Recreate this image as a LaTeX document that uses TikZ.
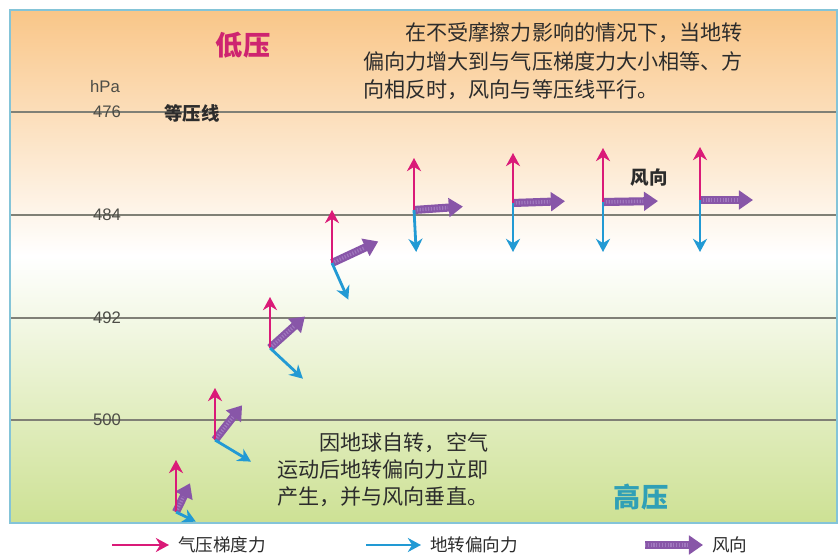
\documentclass[tikz,border=0pt]{standalone}
\usepackage{fontspec}
\setmainfont{Liberation Sans}
\newfontfamily\cjk{Noto Sans CJK SC}
\usepackage{tikz}
\usetikzlibrary{positioning}
\usetikzlibrary{arrows.meta}
\definecolor{pgcol}{RGB}{218,26,120}
\definecolor{cocol}{RGB}{34,154,212}
\definecolor{wdcol}{RGB}{136,86,168}
\definecolor{wdlight}{RGB}{160,120,190}
\definecolor{lowcol}{RGB}{206,36,112}
\definecolor{highcol}{RGB}{48,160,182}
\definecolor{framecol}{RGB}{132,196,216}
\definecolor{bgtop}{RGB}{249,198,136}
\definecolor{bgbot}{RGB}{205,225,148}
\definecolor{isocol}{RGB}{128,128,118}
\definecolor{txtcol}{RGB}{44,44,44}

\begin{document}
\begin{tikzpicture}[
    pg arrow/.style={draw=pgcol, line width=1.6pt, -{Stealth[length=7.5pt,width=8pt]}},
    co arrow/.style={draw=cocol, line width=1.6pt, -{Stealth[length=7.5pt,width=8pt]}},
    wd arrow/.style={
        draw=wdcol, line width=4.6pt, -{Triangle[length=8pt,width=10.5pt]},
        postaction={draw=wdlight, line width=2pt, dash pattern=on 0.7pt off 0.9pt, shorten >=8.5pt, -}
    },
    isobar/.style={draw=isocol, line width=0.6pt},
    hpa label/.style={text=isocol!60!black, font=\fontsize{9.5}{11}\selectfont},
    body/.style={text=txtcol, align=left, inner sep=0pt},
    legend/.style={anchor=west, inner xsep=5pt, text=txtcol, font=\cjk\fontsize{10}{12}\selectfont}
  ]
  \useasboundingbox (0,0) rectangle (16.78,11.12);

  % background and frame
  \shade[top color=bgtop, bottom color=white] (0.2,6.0) rectangle (16.74,10.92);
  \shade[top color=white, bottom color=bgbot] (0.2,0.66) rectangle (16.74,6.0);
  \draw[isobar] (0.2,8.88) -- (16.74,8.88);
  \draw[isobar] (0.2,6.82) -- (16.74,6.82);
  \draw[isobar] (0.2,4.76) -- (16.74,4.76);
  \draw[isobar] (0.2,2.72) -- (16.74,2.72);
  \draw[framecol, line width=1.1pt] (0.2,0.66) rectangle (16.74,10.92);

  \node[hpa label] (unit) at (2.10,9.38) {hPa};
  \node[hpa label] (p476) at (2.14,8.88) {476};
  \node[hpa label] (p484) at (2.14,6.82) {484};
  \node[hpa label] (p492) at (2.14,4.76) {492};
  \node[hpa label] (p500) at (2.14,2.72) {500};
  \node[text=txtcol, font=\cjk\bfseries\fontsize{10.5}{12}\selectfont] (isolab) at (3.84,8.86) {等压线};

  \node[text=lowcol, font=\cjk\bfseries\fontsize{15.5}{18}\selectfont] (low) at (4.86,10.22) {低压};
  \node[text=highcol, font=\cjk\bfseries\fontsize{15.5}{18}\selectfont] (high) at (12.82,1.18) {高压};

  \node[body, anchor=north west, font=\cjk\fontsize{12}{16.2}\selectfont] (note top) at (7.26,10.67)
    {\hspace*{2em}在不受摩擦力影响的情况下，当地转\\偏向力增大到与气压梯度力大小相等、方\\向相反时，风向与等压线平行。};
  \node[body, anchor=north west, font=\cjk\fontsize{12}{15.3}\selectfont] (note bot) at (5.54,2.47)
    {\hspace*{2em}因地球自转，空气\\运动后地转偏向力立即\\产生，并与风向垂直。};

  % force groups, from the start of motion to the balance
\begin{scope}[shift={(3.52,0.88)}]
  \coordinate (o1) at (0,0);
  \coordinate (pg1) at (0,1.04);
  \coordinate (wd1) at (64:0.64);
  \coordinate (co1) at (-26:0.44);
  \draw[wd arrow] (o1) -- (wd1);
  \draw[pg arrow] (o1) -- (pg1);
  \draw[co arrow] (o1) -- (co1);
\end{scope}

\begin{scope}[shift={(4.30,2.32)}]
  \coordinate (o2) at (0,0);
  \coordinate (pg2) at (0,1.04);
  \coordinate (wd2) at (52:0.88);
  \coordinate (co2) at (-31:0.84);
  \draw[wd arrow] (o2) -- (wd2);
  \draw[pg arrow] (o2) -- (pg2);
  \draw[co arrow] (o2) -- (co2);
\end{scope}

\begin{scope}[shift={(5.40,4.16)}]
  \coordinate (o3) at (0,0);
  \coordinate (pg3) at (0,1.02);
  \coordinate (wd3) at (42:0.94);
  \coordinate (co3) at (-43:0.90);
  \draw[wd arrow] (o3) -- (wd3);
  \draw[pg arrow] (o3) -- (pg3);
  \draw[co arrow] (o3) -- (co3);
\end{scope}

\begin{scope}[shift={(6.64,5.86)}]
  \coordinate (o4) at (0,0);
  \coordinate (pg4) at (0,1.06);
  \coordinate (wd4) at (25:1.02);
  \coordinate (co4) at (-66:0.80);
  \draw[wd arrow] (o4) -- (wd4);
  \draw[pg arrow] (o4) -- (pg4);
  \draw[co arrow] (o4) -- (co4);
\end{scope}

\begin{scope}[shift={(8.28,6.92)}]
  \coordinate (o5) at (0,0);
  \coordinate (pg5) at (0,1.04);
  \coordinate (wd5) at (4:0.98);
  \coordinate (co5) at (-87:0.84);
  \draw[wd arrow] (o5) -- (wd5);
  \draw[pg arrow] (o5) -- (pg5);
  \draw[co arrow] (o5) -- (co5);
\end{scope}

\begin{scope}[shift={(10.26,7.06)}]
  \coordinate (o6) at (0,0);
  \coordinate (pg6) at (0,1.00);
  \coordinate (wd6) at (2:1.04);
  \coordinate (co6) at (-90:0.98);
  \draw[wd arrow] (o6) -- (wd6);
  \draw[pg arrow] (o6) -- (pg6);
  \draw[co arrow] (o6) -- (co6);
\end{scope}

\begin{scope}[shift={(12.06,7.08)}]
  \coordinate (o7) at (0,0);
  \coordinate (pg7) at (0,1.08);
  \coordinate (wd7) at (1:1.10);
  \coordinate (co7) at (-90:1.00);
  \draw[wd arrow] (o7) -- (wd7);
  \draw[pg arrow] (o7) -- (pg7);
  \draw[co arrow] (o7) -- (co7);
\end{scope}

\begin{scope}[shift={(14.00,7.12)}]
  \coordinate (o8) at (0,0);
  \coordinate (pg8) at (0,1.06);
  \coordinate (wd8) at (0:1.06);
  \coordinate (co8) at (-90:1.04);
  \draw[wd arrow] (o8) -- (wd8);
  \draw[pg arrow] (o8) -- (pg8);
  \draw[co arrow] (o8) -- (co8);
\end{scope}

  \node[text=txtcol, font=\cjk\bfseries\fontsize{10.5}{12}\selectfont] (wdlab) at (12.98,7.56) {风向};

  % legend
  \coordinate (lg pg) at (2.24,0.22);
  \coordinate (lg co) at (7.32,0.22);
  \coordinate (lg wd) at (12.90,0.22);
  \node[legend] (lt pg) at (3.38,0.22) {气压梯度力};
  \node[legend] (lt co) at (8.42,0.22) {地转偏向力};
  \node[legend] (lt wd) at (14.06,0.22) {风向};
  \draw[pg arrow] (lg pg) -- (lt pg.west);
  \draw[co arrow] (lg co) -- (lt co.west);
  \draw[wd arrow] (lg wd) -- (lt wd.west);

\end{tikzpicture}
\end{document}
